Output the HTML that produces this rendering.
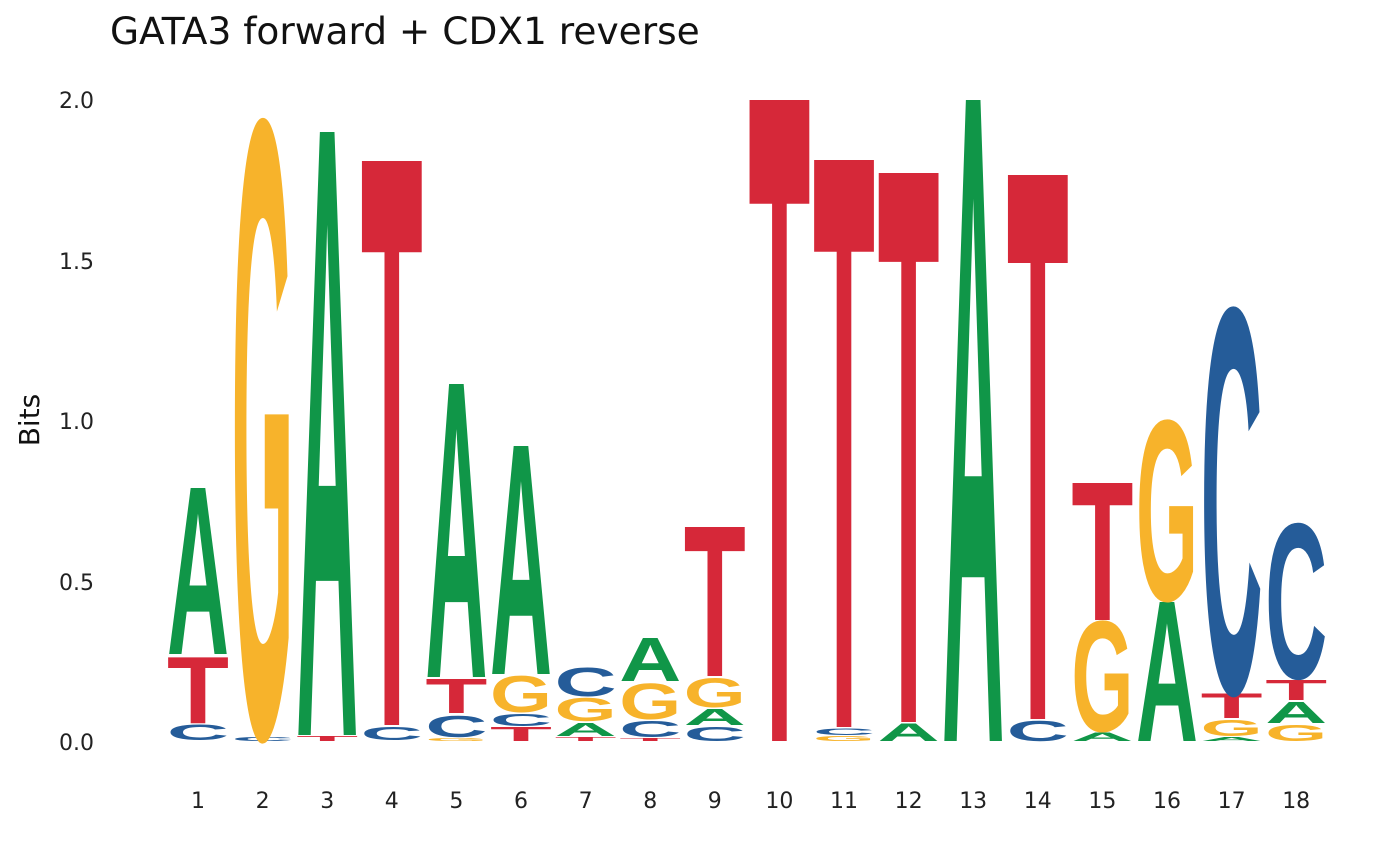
<!DOCTYPE html>
<html><head><meta charset="utf-8"><style>
html,body{margin:0;padding:0;background:#fff;width:1400px;height:866px;overflow:hidden;}
svg{display:block;font-family:"DejaVu Sans","Liberation Sans",sans-serif;}
.l{font-family:"Liberation Sans",sans-serif;font-weight:bold;font-size:100px;}
.A{fill:#109648}.C{fill:#255C99}.G{fill:#F7B32B}.T{fill:#D62839}
.tk{font-size:22px;fill:#222}
</style></head><body>
<svg width="1400" height="866" viewBox="0 0 1400 866">
<text x="110" y="44" font-size="37.5" fill="#111">GATA3 forward + CDX1 reverse</text>
<text transform="translate(39,420) rotate(-90)" text-anchor="middle" font-size="28" fill="#111">Bits</text>
<g class="tk" text-anchor="end">
<text x="94" y="750">0.0</text><text x="94" y="590">0.5</text><text x="94" y="429">1.0</text><text x="94" y="269">1.5</text><text x="94" y="108">2.0</text>
</g>
<g class="tk" text-anchor="middle">
<text x="198" y="808">1</text><text x="262.6" y="808">2</text><text x="327.2" y="808">3</text><text x="391.8" y="808">4</text><text x="456.4" y="808">5</text><text x="521" y="808">6</text><text x="585.6" y="808">7</text><text x="650.2" y="808">8</text><text x="714.8" y="808">9</text><text x="779.4" y="808">10</text><text x="844" y="808">11</text><text x="908.6" y="808">12</text><text x="973.2" y="808">13</text><text x="1037.8" y="808">14</text><text x="1102.4" y="808">15</text><text x="1167" y="808">16</text><text x="1231.6" y="808">17</text><text x="1296.2" y="808">18</text>
</g>
<g class="l">
<text class="C" transform="translate(167,740) scale(1,0.218)" textLength="62" lengthAdjust="spacingAndGlyphs">C</text>
<text class="T" transform="translate(167,723) scale(1,0.9595)" textLength="62" lengthAdjust="spacingAndGlyphs">T</text>
<text class="A" transform="translate(167,654) scale(1,2.412)" textLength="62" lengthAdjust="spacingAndGlyphs">A</text>

<text class="C" transform="translate(231.6,741) scale(1,0.0582)" textLength="62" lengthAdjust="spacingAndGlyphs">C</text>
<text class="G" transform="translate(231.6,735) scale(1,8.838)" textLength="62" lengthAdjust="spacingAndGlyphs">G</text>

<text class="T" transform="translate(296.2,741) scale(1,0.0726)" textLength="62" lengthAdjust="spacingAndGlyphs">T</text>
<text class="A" transform="translate(296.2,735) scale(1,8.765)" textLength="62" lengthAdjust="spacingAndGlyphs">A</text>

<text class="C" transform="translate(360.8,740) scale(1,0.189)" textLength="62" lengthAdjust="spacingAndGlyphs">C</text>
<text class="T" transform="translate(360.8,725) scale(1,8.198)" textLength="62" lengthAdjust="spacingAndGlyphs">T</text>

<text class="G" transform="translate(425.4,741) scale(1,0.0436)" textLength="62" lengthAdjust="spacingAndGlyphs">G</text>
<text class="C" transform="translate(425.4,737) scale(1,0.3052)" textLength="62" lengthAdjust="spacingAndGlyphs">C</text>
<text class="T" transform="translate(425.4,713) scale(1,0.4942)" textLength="62" lengthAdjust="spacingAndGlyphs">T</text>
<text class="A" transform="translate(425.4,677) scale(1,4.259)" textLength="62" lengthAdjust="spacingAndGlyphs">A</text>

<text class="T" transform="translate(490,741) scale(1,0.2035)" textLength="62" lengthAdjust="spacingAndGlyphs">T</text>
<text class="C" transform="translate(490,726) scale(1,0.1744)" textLength="62" lengthAdjust="spacingAndGlyphs">C</text>
<text class="G" transform="translate(490,712) scale(1,0.5233)" textLength="62" lengthAdjust="spacingAndGlyphs">G</text>
<text class="A" transform="translate(490,674) scale(1,3.314)" textLength="62" lengthAdjust="spacingAndGlyphs">A</text>

<text class="T" transform="translate(554.6,741) scale(1,0.0582)" textLength="62" lengthAdjust="spacingAndGlyphs">T</text>
<text class="A" transform="translate(554.6,736) scale(1,0.189)" textLength="62" lengthAdjust="spacingAndGlyphs">A</text>
<text class="G" transform="translate(554.6,721) scale(1,0.3343)" textLength="62" lengthAdjust="spacingAndGlyphs">G</text>
<text class="C" transform="translate(554.6,696) scale(1,0.407)" textLength="62" lengthAdjust="spacingAndGlyphs">C</text>

<text class="T" transform="translate(619.2,741) scale(1,0.0436)" textLength="62" lengthAdjust="spacingAndGlyphs">T</text>
<text class="C" transform="translate(619.2,737) scale(1,0.2326)" textLength="62" lengthAdjust="spacingAndGlyphs">C</text>
<text class="G" transform="translate(619.2,719) scale(1,0.5087)" textLength="62" lengthAdjust="spacingAndGlyphs">G</text>
<text class="A" transform="translate(619.2,681) scale(1,0.625)" textLength="62" lengthAdjust="spacingAndGlyphs">A</text>

<text class="C" transform="translate(683.8,741) scale(1,0.2035)" textLength="62" lengthAdjust="spacingAndGlyphs">C</text>
<text class="A" transform="translate(683.8,725) scale(1,0.2326)" textLength="62" lengthAdjust="spacingAndGlyphs">A</text>
<text class="G" transform="translate(683.8,707) scale(1,0.4215)" textLength="62" lengthAdjust="spacingAndGlyphs">G</text>
<text class="T" transform="translate(683.8,676) scale(1,2.166)" textLength="62" lengthAdjust="spacingAndGlyphs">T</text>

<text class="T" transform="translate(748.4,741) scale(1,9.317)" textLength="62" lengthAdjust="spacingAndGlyphs">T</text>

<text class="G" transform="translate(813,741) scale(1,0.0726)" textLength="62" lengthAdjust="spacingAndGlyphs">G</text>
<text class="C" transform="translate(813,735) scale(1,0.0872)" textLength="62" lengthAdjust="spacingAndGlyphs">C</text>
<text class="T" transform="translate(813,727) scale(1,8.241)" textLength="62" lengthAdjust="spacingAndGlyphs">T</text>

<text class="A" transform="translate(877.6,741) scale(1,0.2471)" textLength="62" lengthAdjust="spacingAndGlyphs">A</text>
<text class="T" transform="translate(877.6,722) scale(1,7.98)" textLength="62" lengthAdjust="spacingAndGlyphs">T</text>

<text class="A" transform="translate(942.2,741) scale(1,9.317)" textLength="62" lengthAdjust="spacingAndGlyphs">A</text>

<text class="C" transform="translate(1006.8,741) scale(1,0.2907)" textLength="62" lengthAdjust="spacingAndGlyphs">C</text>
<text class="T" transform="translate(1006.8,719) scale(1,7.907)" textLength="62" lengthAdjust="spacingAndGlyphs">T</text>

<text class="A" transform="translate(1071.4,741) scale(1,0.1162)" textLength="62" lengthAdjust="spacingAndGlyphs">A</text>
<text class="G" transform="translate(1071.4,731) scale(1,1.584)" textLength="62" lengthAdjust="spacingAndGlyphs">G</text>
<text class="T" transform="translate(1071.4,620) scale(1,1.991)" textLength="62" lengthAdjust="spacingAndGlyphs">T</text>

<text class="A" transform="translate(1136,741) scale(1,2.02)" textLength="62" lengthAdjust="spacingAndGlyphs">A</text>
<text class="G" transform="translate(1136,600) scale(1,2.587)" textLength="62" lengthAdjust="spacingAndGlyphs">G</text>

<text class="A" transform="translate(1200.6,741) scale(1,0.0582)" textLength="62" lengthAdjust="spacingAndGlyphs">A</text>
<text class="G" transform="translate(1200.6,736) scale(1,0.2326)" textLength="62" lengthAdjust="spacingAndGlyphs">G</text>
<text class="T" transform="translate(1200.6,718) scale(1,0.3488)" textLength="62" lengthAdjust="spacingAndGlyphs">T</text>
<text class="C" transform="translate(1200.6,692) scale(1,5.523)" textLength="62" lengthAdjust="spacingAndGlyphs">C</text>

<text class="G" transform="translate(1265.2,741) scale(1,0.2326)" textLength="62" lengthAdjust="spacingAndGlyphs">G</text>
<text class="A" transform="translate(1265.2,723) scale(1,0.3052)" textLength="62" lengthAdjust="spacingAndGlyphs">A</text>
<text class="T" transform="translate(1265.2,700) scale(1,0.2907)" textLength="62" lengthAdjust="spacingAndGlyphs">T</text>
<text class="C" transform="translate(1265.2,678) scale(1,2.224)" textLength="62" lengthAdjust="spacingAndGlyphs">C</text>
</g>
</svg>
</body></html>
